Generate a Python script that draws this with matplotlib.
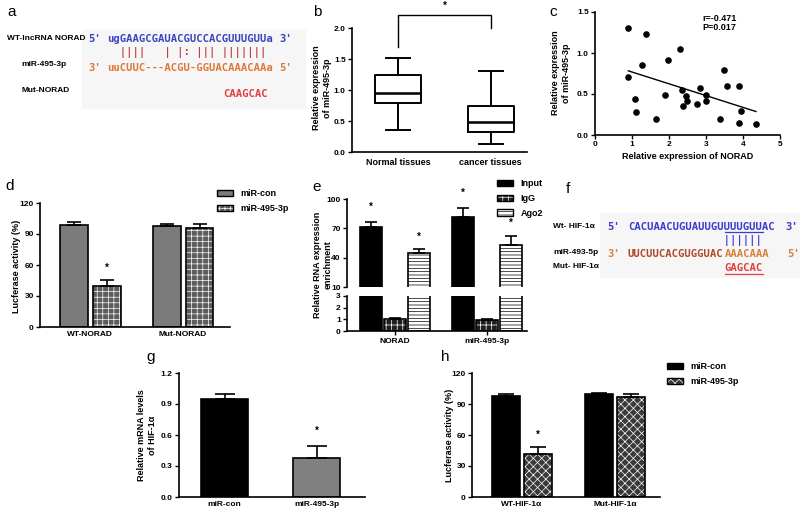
import numpy as np
import matplotlib
matplotlib.use("Agg")
import matplotlib.pyplot as plt
from matplotlib.patches import Patch, Rectangle
from matplotlib.lines import Line2D

# ---------- data ----------
# a: NORAD / miR-495-3p binding site
a_wt_seq = "ugGAAGCGAUACGUCCACGUUUGUUa"
a_pairs = "  ||||   | |: ||| |||||||"
a_mir_seq = "uuCUUC---ACGU-GGUACAAACAAa"
a_mut_seq = "CAAGCAC"
a_mut_start = 18

# b: box plot
b_groups = ["Normal tissues", "cancer tissues"]
b_whislo = [0.36, 0.13]
b_q1 = [0.79, 0.32]
b_med = [0.95, 0.49]
b_q3 = [1.25, 0.75]
b_whishi = [1.52, 1.30]

# c: correlation
c_norad = [0.90, 1.37, 2.31, 1.96, 1.26, 3.48, 0.90, 3.56, 3.90, 2.85, 2.35, 3.00, 1.88,
           2.46, 1.09, 2.49, 3.00, 2.77, 2.39, 3.95, 1.10, 3.37, 1.66, 3.88, 4.35]
c_mir = [1.30, 1.23, 1.05, 0.91, 0.85, 0.79, 0.71, 0.60, 0.60, 0.57, 0.55, 0.49, 0.49,
         0.47, 0.44, 0.42, 0.41, 0.38, 0.35, 0.29, 0.28, 0.20, 0.19, 0.15, 0.13]

# d: luciferase NORAD
d_groups = ["WT-NORAD", "Mut-NORAD"]
d_con = [98.5, 97.5]
d_con_err = [3.0, 2.0]
d_mir = [39.5, 95.5]
d_mir_err = [6.0, 4.0]

# e: RIP
e_groups = ["NORAD", "miR-495-3p"]
e_input = [71.0, 82.0]
e_input_err = [5.0, 8.5]
e_igg = [1.0, 0.95]
e_igg_err = [0.12, 0.07]
e_ago2 = [45.0, 52.5]
e_ago2_err = [4.0, 10.0]

# f: HIF-1a / miR-495 binding site
f_wt_seq = "CACUAACUGUAUUGUUUUGUUAC"
f_pairs = "               ||||||"
f_mir_seq = "UUCUUCACGUGGUACAAACAAA"
f_mut_seq = "GAGCAC"
f_mut_start = 15

# g: HIF-1a mRNA
g_groups = ["miR-con", "miR-495-3p"]
g_vals = [0.95, 0.38]
g_err = [0.05, 0.11]

# h: luciferase HIF-1a
h_groups = ["WT-HIF-1α", "Mut-HIF-1α"]
h_con = [97.5, 99.5]
h_con_err = [2.0, 1.5]
h_mir = [42.0, 96.5]
h_mir_err = [6.0, 3.0]

# ---------- style ----------
plt.rcParams['font.family'] = ['Liberation Sans', 'DejaVu Sans']
plt.rcParams['font.weight'] = 'bold'
plt.rcParams['axes.labelweight'] = 'bold'
plt.rcParams['axes.linewidth'] = 1.2
plt.rcParams['hatch.linewidth'] = 0.5

W, H = 800, 516
fig = plt.figure(figsize=(8, 5.16), dpi=100)
MONO = 'DejaVu Sans Mono'
SEQ_FS = 7.7
CW = 0.602 * SEQ_FS * 100 / 72  # char width in px


def axes_px(x0, y0, x1, y1):
    return fig.add_axes([x0 / W, 1 - y1 / H, (x1 - x0) / W, (y1 - y0) / H])


def text_px(x, y, s, **kw):
    kw.setdefault('va', 'center')
    return fig.text(x / W, 1 - y / H, s, **kw)


def style(ax):
    ax.spines['top'].set_visible(False)
    ax.spines['right'].set_visible(False)
    ax.tick_params(direction='out', length=3, width=1.0, labelsize=6, pad=1.5)


def ylab(x, y, s):
    text_px(x, y, s, rotation=90, ha='center', fontsize=6.5, multialignment='center',
            linespacing=1.15)


def hbar(ax, x, h, w, face, hatch=None, hcolor='white'):
    ax.bar(x, h, w, color=face, edgecolor=hcolor, hatch=hatch, linewidth=0, zorder=2)
    ax.bar(x, h, w, fill=False, edgecolor='black', linewidth=1.2, zorder=3)


def errs(ax, x, y, e, cap):
    ax.errorbar(x, y, yerr=[np.zeros(len(e)), e], fmt='none', ecolor='black',
                elinewidth=1.2, capsize=cap, capthick=1.2, zorder=4)


def star(ax, x, y, dy=9):
    ax.annotate('*', (x, y), xytext=(0, dy), textcoords='offset points', ha='center',
                va='center', fontsize=7, annotation_clip=False)


def leg_handle(face, hatch=None, hcolor='white'):
    return (Patch(facecolor=face, edgecolor=hcolor, hatch=hatch, linewidth=0),
            Patch(facecolor='none', edgecolor='black', linewidth=1.0))


def legend_px(ax, handles, labels, x, y):
    ax.legend(handles, labels, loc='upper left', bbox_to_anchor=(x / W, 1 - y / H),
              bbox_transform=fig.transFigure, frameon=False, fontsize=6.5,
              handlelength=1.8, handleheight=0.7, handletextpad=0.8, labelspacing=0.65,
              borderpad=0, borderaxespad=0)


# panel letters
for lab, x, y in [('a', 12, 12), ('b', 317, 12), ('c', 553, 12), ('d', 10, 186),
                  ('e', 317, 187), ('f', 568, 189), ('g', 151, 357), ('h', 445, 357)]:
    text_px(x, y, lab, fontsize=11, fontweight='normal', ha='center')

# ---------- a ----------
fig.patches.append(Rectangle((82 / W, 1 - 108 / H), (305 - 82) / W, 78 / H,
                             transform=fig.transFigure, color='#f6f6f6', zorder=0))
blue, orange, dred, red = '#3b45c0', '#e0783a', '#c2404a', '#e04040'
x0 = 107
text_px(7, 39, "WT-lncRNA NORAD", fontsize=6)
text_px(21, 64, "miR-495-3p", fontsize=6)
text_px(21, 91, "Mut-NORAD", fontsize=6)
text_px(88, 39, "5'", family=MONO, fontsize=SEQ_FS, color=blue)
text_px(x0, 39, a_wt_seq, family=MONO, fontsize=SEQ_FS, color=blue)
text_px(x0 + len(a_wt_seq) * CW + 5, 39, "3'", family=MONO, fontsize=SEQ_FS, color=blue)
text_px(x0, 53, a_pairs, family=MONO, fontsize=SEQ_FS, color=dred)
text_px(88, 68, "3'", family=MONO, fontsize=SEQ_FS, color=orange)
text_px(x0, 68, a_mir_seq, family=MONO, fontsize=SEQ_FS, color=orange)
text_px(x0 + len(a_mir_seq) * CW + 5, 68, "5'", family=MONO, fontsize=SEQ_FS, color=orange)
text_px(x0 + a_mut_start * CW, 94, a_mut_seq, family=MONO, fontsize=SEQ_FS, color=red)

# ---------- b ----------
ax = axes_px(352, 28, 527, 152)
style(ax)
stats = [dict(whislo=b_whislo[i], q1=b_q1[i], med=b_med[i], q3=b_q3[i], whishi=b_whishi[i],
              label=b_groups[i]) for i in range(2)]
ax.bxp(stats, positions=[1, 2], widths=0.5, capwidths=0.26, showfliers=False,
       boxprops=dict(lw=1.4), whiskerprops=dict(lw=1.4), capprops=dict(lw=1.4),
       medianprops=dict(lw=1.8, color='black'))
ax.set_xlim(0.505, 2.39)
ax.set_ylim(0, 2.0)
ax.set_yticks([0, 0.5, 1.0, 1.5, 2.0])
ax.set_yticklabels(['0.0', '0.5', '1.0', '1.5', '2.0'])
ax.tick_params(axis='x', length=0, labelsize=6.5, pad=4)
ax.plot([1, 1, 2, 2], [1.69, 2.21, 2.21, 2.0], color='black', lw=1.0, clip_on=False)
ax.text(1.5, 2.36, '*', ha='center', va='center', fontsize=7)
ylab(322, 88, "Relative expression\nof miR-495-3p")

# ---------- c ----------
ax = axes_px(595, 12, 780, 135)
style(ax)
ax.scatter(c_norad, c_mir, s=14, color='black', zorder=3, clip_on=False)
k, b0 = np.polyfit(c_norad, c_mir, 1)
xl = np.array([min(c_norad), max(c_norad)])
ax.plot(xl, k * xl + b0, color='black', lw=1.0)
ax.set_xlim(0, 5)
ax.set_ylim(0, 1.5)
ax.set_xticks(range(6))
ax.set_yticks([0, 0.5, 1.0, 1.5])
ax.set_yticklabels(['0.0', '0.5', '1.0', '1.5'])
ax.set_xlabel("Relative expression of NORAD", fontsize=6.5, labelpad=3)
ylab(561, 73, "Relative expression\nof miR-495-3p")
text_px(702, 23, "r=-0.471\nP=0.017", fontsize=6.5, ha='left', linespacing=1.1)

# ---------- d ----------
ax = axes_px(40, 203, 230, 327)
style(ax)
xs = np.arange(2)
bw, off = 0.30, 0.177
hbar(ax, xs - off, d_con, bw, '#7b7b7b')
hbar(ax, xs + off, d_mir, bw, '#5c5c5c', hatch='+++')
errs(ax, xs - off, d_con, d_con_err, 5)
errs(ax, xs + off, d_mir, d_mir_err, 5)
star(ax, xs[0] + off, d_mir[0] + d_mir_err[0])
ax.set_xlim(-0.54, 1.505)
ax.set_ylim(0, 120)
ax.set_yticks([0, 30, 60, 90, 120])
ax.set_xticks(xs)
ax.set_xticklabels(d_groups)
ax.tick_params(axis='x', length=0, pad=3)
ylab(17, 266, "Lucferase activity (%)")
legend_px(ax, [leg_handle('#7b7b7b'), leg_handle('#5c5c5c', '+++')],
          ["miR-con", "miR-495-3p"], 217, 189)

# ---------- e ----------
axu = axes_px(347, 199, 527, 287)
axl = axes_px(347, 296, 527, 331)
xs = np.arange(2)
bw, off = 0.238, 0.26
for a_ in (axu, axl):
    style(a_)
    hbar(a_, xs - off, e_input, bw, 'black')
    hbar(a_, xs, e_igg, bw, '#1e1e1e', hatch='+++')
    hbar(a_, xs + off, e_ago2, bw, 'white', hatch='-----', hcolor='black')
    a_.set_xlim(-0.52, 1.43)
errs(axu, xs - off, e_input, e_input_err, 4)
errs(axu, xs + off, e_ago2, e_ago2_err, 4)
errs(axl, xs, e_igg, e_igg_err, 4)
for i in range(2):
    star(axu, xs[i] - off, e_input[i] + e_input_err[i], dy=11)
    star(axu, xs[i] + off, e_ago2[i] + e_ago2_err[i])
axu.set_ylim(10, 100)
axu.set_yticks([10, 40, 70, 100])
axu.spines['bottom'].set_visible(False)
axu.set_xticks([])
axl.set_ylim(0, 3)
axl.set_yticks([0, 1, 2, 3])
axl.set_xticks(xs)
axl.set_xticklabels(e_groups)
axl.tick_params(axis='x', pad=2)
ylab(323, 265, "Relative RNA expression\nenrichment")
legend_px(axu, [leg_handle('black'), leg_handle('#1e1e1e', '+++'),
                leg_handle('white', '-----', 'black')],
          ["Input", "IgG", "Ago2"], 497, 179)

# ---------- f ----------
fig.patches.append(Rectangle((600 / W, 1 - 277 / H), 200 / W, 64 / H,
                             transform=fig.transFigure, color='#f6f6f6', zorder=0))
fblue, fbrown, forange = '#3a3ccc', '#b04a2a', '#d9803a'
fx0 = 628
text_px(553, 226, "Wt- HIF-1α", fontsize=6)
text_px(553, 253, "miR-493-5p", fontsize=6)
text_px(553, 267, "Mut- HIF-1α", fontsize=6)
text_px(607, 227, "5'", family=MONO, fontsize=SEQ_FS, color=fblue)
text_px(fx0, 227, f_wt_seq, family=MONO, fontsize=SEQ_FS, color=fblue)
text_px(785, 227, "3'", family=MONO, fontsize=SEQ_FS, color=fblue)
fig.add_artist(Line2D([(fx0 + 15 * CW) / W, (fx0 + 21 * CW) / W], [1 - 232 / H] * 2,
                      color=fblue, lw=0.9))
text_px(fx0, 241, f_pairs, family=MONO, fontsize=SEQ_FS, color=fblue)
text_px(607, 254, "3'", family=MONO, fontsize=SEQ_FS, color=forange)
text_px(fx0, 254, f_mir_seq[:f_mut_start], family=MONO, fontsize=SEQ_FS, color=fbrown)
text_px(fx0 + f_mut_start * CW, 254, f_mir_seq[f_mut_start:], family=MONO,
        fontsize=SEQ_FS, color=forange)
text_px(787, 254, "5'", family=MONO, fontsize=SEQ_FS, color=forange)
text_px(fx0 + f_mut_start * CW, 268, f_mut_seq, family=MONO, fontsize=SEQ_FS, color=red)
fig.add_artist(Line2D([(fx0 + f_mut_start * CW) / W,
                       (fx0 + (f_mut_start + len(f_mut_seq)) * CW) / W],
                      [1 - 274 / H] * 2, color=red, lw=0.9))

# ---------- g ----------
ax = axes_px(179, 373, 365, 497)
style(ax)
xs = np.arange(2)
ax.bar(xs, g_vals, 0.51, color=['black', '#808080'], edgecolor='black', linewidth=1.2,
       zorder=2)
errs(ax, xs, g_vals, g_err, 7)
star(ax, xs[1], g_vals[1] + g_err[1], dy=11)
ax.set_xlim(-0.495, 1.527)
ax.set_ylim(0, 1.2)
ax.set_yticks([0, 0.3, 0.6, 0.9, 1.2])
ax.set_yticklabels(['0.0', '0.3', '0.6', '0.9', '1.2'])
ax.set_xticks(xs)
ax.set_xticklabels(g_groups)
ax.tick_params(axis='x', length=0, pad=3)
ylab(147, 435, "Relative mRNA levels\nof HIF-1α")

# ---------- h ----------
ax = axes_px(472, 373, 660, 497)
style(ax)
bw, off = 0.296, 0.172
hbar(ax, xs - off, h_con, bw, 'black')
hbar(ax, xs + off, h_mir, bw, '#3a3a3a', hatch='xxxx')
errs(ax, xs - off, h_con, h_con_err, 6)
errs(ax, xs + off, h_mir, h_mir_err, 6)
star(ax, xs[0] + off, h_mir[0] + h_mir_err[0])
ax.set_xlim(-0.538, 1.484)
ax.set_ylim(0, 120)
ax.set_yticks([0, 30, 60, 90, 120])
ax.set_xticks(xs)
ax.set_xticklabels(h_groups)
ax.tick_params(axis='x', length=0, pad=3)
ylab(450, 435, "Lucferase activity (%)")
legend_px(ax, [leg_handle('black'), leg_handle('#3a3a3a', 'xxxx')],
          ["miR-con", "miR-495-3p"], 667, 362)

fig.savefig("out.png", dpi=100)
